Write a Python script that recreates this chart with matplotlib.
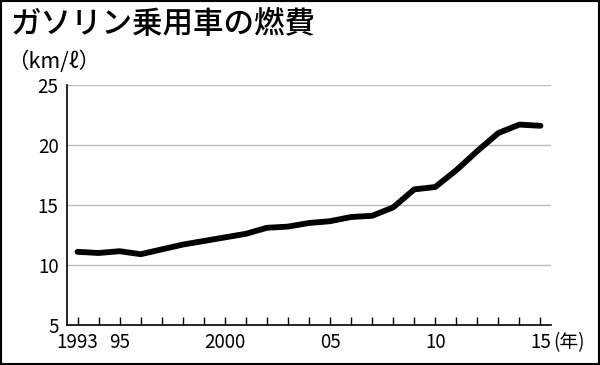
import matplotlib
matplotlib.use("Agg")
import matplotlib.pyplot as plt
import matplotlib.transforms as mtransforms
from matplotlib.patches import Rectangle

# data
years = list(range(1993, 2016))
fuel_economy = [11.1, 11.0, 11.15, 10.9, 11.3, 11.7, 12.0, 12.3, 12.6, 13.1, 13.2,
                13.5, 13.65, 14.0, 14.1, 14.8, 16.3, 16.5, 17.9, 19.5, 21.0, 21.7, 21.6]
yticks = [5, 10, 15, 20, 25]
xtick_pos = [1993, 1995, 2000, 2005, 2010, 2015]
xtick_labels = ["1993", "95", "2000", "05", "10", "15"]

title = "ガソリン乗用車の燃費"
unit = "（km/ℓ）"

cjk = ["Noto Sans CJK JP", "DejaVu Sans"]

fig = plt.figure(figsize=(6, 3.65), dpi=100)
ax = fig.add_axes([0.1117, 0.1096, 0.8066, 0.6575])

ax.plot(years, fuel_economy, color="black", lw=4.2, solid_capstyle="round",
        solid_joinstyle="round", zorder=3)

ax.set_xlim(1992.5, 2015.5)
ax.set_ylim(5, 25)
ax.set_yticks(yticks)
ylabels = ax.set_yticklabels([str(v) for v in yticks], family=cjk, fontsize=13.5)
ax.set_xticks(years, minor=True)
ax.set_xticks(xtick_pos)
ax.set_xticklabels(xtick_labels, family=cjk, fontsize=13.5)

# nudge the bottom "5" up a little so it clears "1993"
ylabels[0].set_transform(ylabels[0].get_transform() +
                         mtransforms.ScaledTranslation(0, 4 / 72, fig.dpi_scale_trans))

for v in yticks[1:]:
    ax.axhline(v, color="#bbbbbb", lw=1, zorder=1)

ax.tick_params(axis="y", length=0, pad=6)
ax.tick_params(axis="x", which="both", direction="in", length=6, width=1, pad=5)
for s in ["top", "right"]:
    ax.spines[s].set_visible(False)
for s in ["left", "bottom"]:
    ax.spines[s].set_linewidth(1.2)

fig.text(0.017, 0.975, title, family=cjk, fontsize=22, weight="medium",
         va="top", ha="left")
fig.text(0.012, 0.83, unit, family=cjk, fontsize=15.5, va="center", ha="left")
fig.text(0.922, 0.06, "(年)", family=cjk, fontsize=13.5, va="center", ha="left")

fig.patches.append(Rectangle((0.001, 0.002), 0.997, 0.996, transform=fig.transFigure,
                             fill=False, edgecolor="black", lw=1.5))

fig.savefig("out.png", dpi=100)
